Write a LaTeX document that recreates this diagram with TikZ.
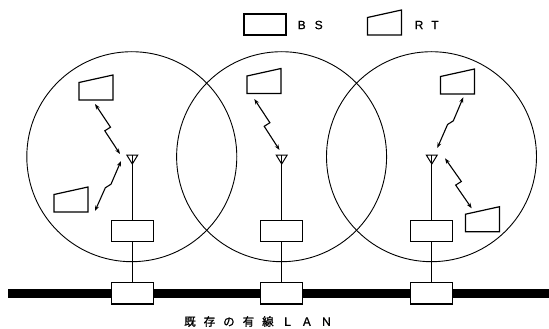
\documentclass[tikz,border=0pt]{standalone}
\usepackage{fontspec}
\newfontfamily\jpfont{Noto Sans CJK JP}[FakeBold=1.2]
\newfontfamily\latfont{Liberation Sans}[FakeBold=0.6]
\usetikzlibrary{calc,arrows.meta}
\begin{document}
\begin{tikzpicture}[x=1pt,y=-1pt,
  thinline/.style={line width=0.9pt},
  box/.style={draw, line width=1.2pt, minimum width=42pt, minimum height=21.5pt, inner sep=0pt, fill=white},
  cell/.style={draw, line width=0.9pt, circle, minimum size=210pt, inner sep=0pt},
  radio/.style={line width=1.1pt, {Stealth[length=5.5pt,width=4pt]}-{Stealth[length=5.5pt,width=4pt]}},
  rt/.pic={\draw[line width=1.2pt] (0,0) -- (34,0) -- (34,-25) -- (0,-17.5) -- cycle;},
  antenna/.pic={\draw[line width=1pt] (-5.5,0) -- (5.5,0) -- (0,9) -- cycle;},
  lbl/.style={anchor=west, inner sep=0pt}
]
\useasboundingbox (0,0) rectangle (549,329);

% cells
\node[cell] (c1) at (131.8,156.7) {};
\node[cell] (c2) at (281.6,156.7) {};
\node[cell] (c3) at (431.5,156.7) {};

% wired LAN
\coordinate (lanL) at (8,293);
\coordinate (lanR) at (549,293);
\draw[line width=9pt] (lanL) -- (lanR);

% base stations and LAN taps
\foreach \i/\x in {1/132.3, 2/281.7, 3/431.8} {
  \coordinate (ant\i) at (\x,155);
  \node[box] (bs\i) at (\x,231) {};
  \node[box] (lan\i) at (\x,293.3) {};
  \pic at (ant\i) {antenna};
  \draw[thinline] (ant\i) -- (bs\i.north);
  \draw[thinline] (bs\i.south) -- (lan\i.north);
}

% radio terminals
\pic at (79,100) {rt};
\pic at (54,212) {rt};
\pic at (247,93.5) {rt};
\pic at (440.5,94) {rt};
\pic at (465.5,231.7) {rt};

% radio links
\coordinate (r1s) at (95,104);    \coordinate (r1e) at (120,154);
\coordinate (r2s) at (121,161);   \coordinate (r2e) at (95,211);
\coordinate (r3s) at (254.3,99);  \coordinate (r3e) at (279.5,150);
\coordinate (r4s) at (463.3,97.3);\coordinate (r4e) at (437.3,148);
\coordinate (r5s) at (445,158.3); \coordinate (r5e) at (471.7,208.3);
\foreach \s/\e in {r1s/r1e, r2s/r2e, r3s/r3e, r4s/r4e, r5s/r5e}
  \draw[radio] (\s) -- ($(\s)!0.5!(\e)+(3,-1.8)$) -- ($(\s)!0.5!(\e)+(-2.7,1.8)$) -- (\e);

% legend
\node[box, minimum height=21pt] (legbs) at (265,24.5) {};
\node[lbl, font=\latfont\fontsize{12}{12}\selectfont] (legbstxt) at (297.5,25) {B\hspace{9pt}S};
\pic at (367.5,35) {rt};
\node[lbl, font=\latfont\fontsize{12}{12}\selectfont] (legrttxt) at (414.5,25) {R\hspace{8pt}T};

% caption
\node[lbl, font=\jpfont\fontsize{11.5}{11.5}\selectfont] (lantxt) at (184,321.5)
  {既\hspace{8pt}存\hspace{8pt}の\hspace{8pt}有\hspace{8pt}線\hspace{8pt}Ｌ\hspace{8pt}Ａ\hspace{8pt}Ｎ};
\end{tikzpicture}
\end{document}
